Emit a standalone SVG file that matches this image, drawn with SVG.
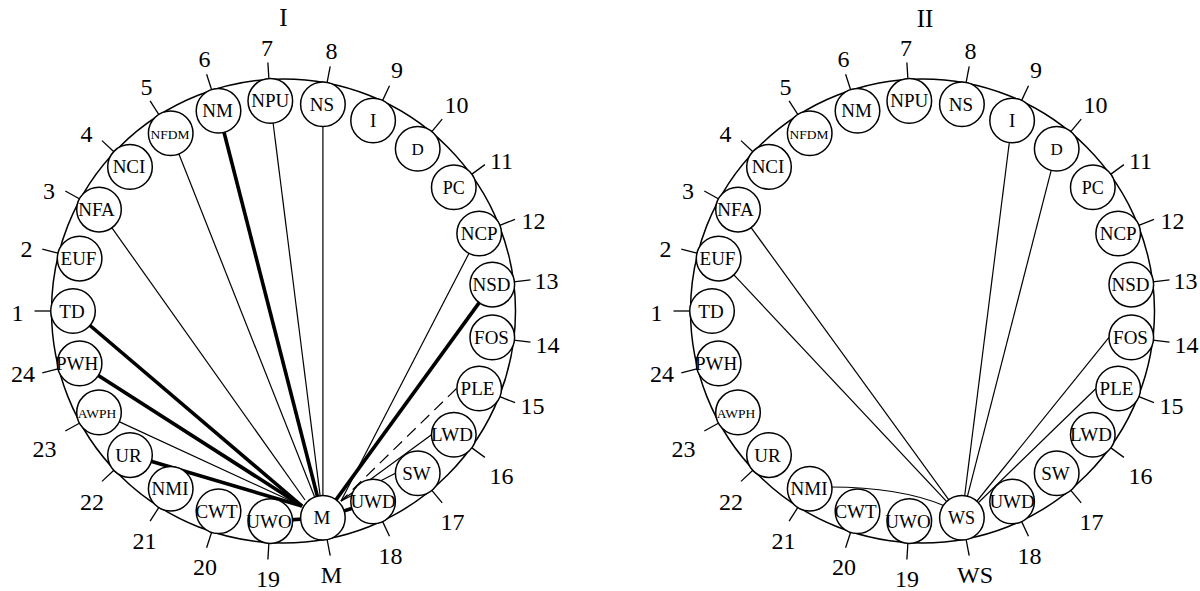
<svg xmlns="http://www.w3.org/2000/svg" width="1200" height="591" viewBox="0 0 1200 591" font-family="'Liberation Serif', 'DejaVu Serif', serif">
<style>
.lbl,.num,.title{font-family:"Liberation Serif","DejaVu Serif",serif;fill:#000}
.ring{fill:none;stroke:#000;stroke-width:1.5}
.node circle{fill:#fff;stroke:#000;stroke-width:1.5}
.node .tick{stroke:#000;stroke-width:1.3}
.lbl{font-size:19px;text-anchor:middle}
.sm{font-size:13.5px}
.num{font-size:24px;text-anchor:middle}
.title{font-size:25px;text-anchor:middle}
.thin{stroke:#000;stroke-width:1.2;fill:none}
.thick{stroke:#000;stroke-width:3.6;fill:none}
.dash{stroke-dasharray:12 7}
</style>
<rect width="1200" height="591" fill="#fff"/>
<text class="title" x="283.5" y="26">I</text>
<text class="title" x="925" y="27">II</text>
<circle class="ring" cx="283.5" cy="311" r="232"/>
<circle class="ring" cx="922.5" cy="311" r="232"/>

<g id="connectors">
<g id="conn-I">
<line class="thick" x1="218.5" y1="110.8" x2="322.9" y2="517.8"/>
<line class="thin" x1="170.7" y1="133.3" x2="322.9" y2="517.8"/>
<line class="thin" x1="270.3" y1="100.9" x2="322.9" y2="517.8"/>
<line class="thin" x1="322.9" y1="104.2" x2="322.9" y2="517.8"/>
<line class="thin" x1="99" y1="209.6" x2="305" y2="500"/>
<line class="thick" x1="73" y1="311" x2="302" y2="506"/>
<line class="thick" x1="79.6" y1="363.4" x2="302" y2="506"/>
<line class="thin" x1="99" y1="412.4" x2="302" y2="506"/>
<line class="thick" x1="130" y1="455.1" x2="302" y2="506"/>
<line class="thick" x1="270.3" y1="521.1" x2="322.9" y2="517.8"/>
<line class="thick" x1="322.9" y1="517.8" x2="373.1" y2="501.5"/>
<line class="thick" x1="492.3" y1="284.6" x2="322.9" y2="517.8"/>
<line class="thin" x1="479.2" y1="233.5" x2="341" y2="501"/>
<line class="thin dash" x1="456.5" y1="388.5" x2="341" y2="501"/>
<line class="thin" x1="431.5" y1="434.7" x2="341" y2="501"/>
<line class="thin" x1="395.5" y1="473.2" x2="341" y2="501"/>
</g>
<g id="conn-II">
<line class="thin" x1="738" y1="209.6" x2="961.9" y2="517.8"/>
<line class="thin" x1="718.6" y1="258.6" x2="961.9" y2="517.8"/>
<line class="thin" x1="1012.1" y1="120.5" x2="961.9" y2="517.8"/>
<line class="thin" x1="1056.7" y1="148.8" x2="961.9" y2="517.8"/>
<line class="thin" x1="1109" y1="337.4" x2="977" y2="501"/>
<line class="thin" x1="1096" y1="388.5" x2="978" y2="503"/>
<path class="thin" d="M830,487 Q900,487 945,506"/>
</g>
</g>

<!-- Diagram I nodes -->
<g id="I-TD" class="node"><line class="tick" x1="51.5" y1="311" x2="34.5" y2="311"/><text class="num" x="17.5" y="321">1</text><circle cx="73" cy="311" r="22.3"/><text class="lbl" x="72" y="317.5">TD</text></g>
<g id="I-EUF" class="node"><line class="tick" x1="58.8" y1="253.3" x2="42.3" y2="249.1"/><text class="num" x="26.5" y="257">2</text><circle cx="79.6" cy="258.6" r="22.3"/><text class="lbl" x="78.5" y="265">EUF</text></g>
<g id="I-NFA" class="node"><line class="tick" x1="80.2" y1="199.2" x2="65.3" y2="191"/><text class="num" x="49" y="199">3</text><circle cx="99" cy="209.6" r="22.3"/><text class="lbl" x="96.5" y="216">NFA</text></g>
<g id="I-NCI" class="node"><line class="tick" x1="114.4" y1="152.2" x2="102" y2="140.6"/><text class="num" x="86.5" y="142">4</text><circle cx="130" cy="166.9" r="22.3"/><text class="lbl" x="129" y="173.4">NCI</text></g>
<g id="I-NFDM" class="node"><line class="tick" x1="159.2" y1="115.1" x2="150.1" y2="100.8"/><text class="num" x="146.5" y="95">5</text><circle cx="170.7" cy="133.3" r="22.3"/><text class="lbl sm" x="170" y="139">NFDM</text></g>
<g id="I-NM" class="node"><line class="tick" x1="211.8" y1="90.3" x2="206.6" y2="74.2"/><text class="num" x="204.5" y="67">6</text><circle cx="218.5" cy="110.8" r="22.3"/><text class="lbl" x="217.5" y="117.3">NM</text></g>
<g id="I-NPU" class="node"><line class="tick" x1="268.9" y1="79.5" x2="267.9" y2="62.5"/><text class="num" x="267" y="56">7</text><circle cx="270.3" cy="100.9" r="22.3"/><text class="lbl" x="270.3" y="107.4">NPU</text></g>
<g id="I-NS" class="node"><line class="tick" x1="327" y1="83.1" x2="330.2" y2="66.4"/><text class="num" x="331.5" y="59">8</text><circle cx="322.9" cy="104.2" r="22.3"/><text class="lbl" x="322" y="110.7">NS</text></g>
<g id="I-I" class="node"><line class="tick" x1="382.3" y1="101.1" x2="389.5" y2="85.7"/><text class="num" x="397" y="78">9</text><circle cx="373.1" cy="120.5" r="22.3"/><text class="lbl" x="373.1" y="127">I</text></g>
<g id="I-D" class="node"><line class="tick" x1="431.4" y1="132.2" x2="442.2" y2="119.1"/><text class="num" x="456.5" y="113">10</text><circle cx="417.7" cy="148.8" r="22.3"/><text class="lbl" x="417.7" y="155" style="font-size:17px">D</text></g>
<g id="I-PC" class="node"><line class="tick" x1="471.2" y1="174.6" x2="484.9" y2="164.6"/><text class="num" x="501.5" y="169">11</text><circle cx="453.8" cy="187.3" r="22.3"/><text class="lbl" x="453.8" y="193.5" style="font-size:18px">PC</text></g>
<g id="I-NCP" class="node"><line class="tick" x1="499.2" y1="225.6" x2="515" y2="219.3"/><text class="num" x="533.5" y="229">12</text><circle cx="479.2" cy="233.5" r="22.3"/><text class="lbl" x="479.2" y="240">NCP</text></g>
<g id="I-NSD" class="node"><line class="tick" x1="513.7" y1="281.9" x2="530.5" y2="279.8"/><text class="num" x="546.5" y="289">13</text><circle cx="492.3" cy="284.6" r="22.3"/><text class="lbl" x="491.5" y="291">NSD</text></g>
<g id="I-FOS" class="node"><line class="tick" x1="513.7" y1="340.1" x2="530.5" y2="342.2"/><text class="num" x="547.5" y="353">14</text><circle cx="492.3" cy="337.4" r="22.3"/><text class="lbl" x="491.5" y="343.8">FOS</text></g>
<g id="I-PLE" class="node"><line class="tick" x1="499.2" y1="396.4" x2="515" y2="402.7"/><text class="num" x="532.5" y="414">15</text><circle cx="479.2" cy="388.5" r="22.3"/><text class="lbl" x="477.5" y="395">PLE</text></g>
<g id="I-LWD" class="node"><line class="tick" x1="471.2" y1="447.4" x2="484.9" y2="457.4"/><text class="num" x="501.5" y="484">16</text><circle cx="453.8" cy="434.7" r="22.3"/><text class="lbl" x="452" y="441">LWD</text></g>
<g id="I-SW" class="node"><line class="tick" x1="431.4" y1="489.8" x2="442.2" y2="502.9"/><text class="num" x="452.5" y="530">17</text><circle cx="417.7" cy="473.2" r="22.3"/><text class="lbl" x="416.5" y="479.5">SW</text></g>
<g id="I-UWD" class="node"><line class="tick" x1="382.3" y1="520.9" x2="389.5" y2="536.3"/><text class="num" x="390.5" y="564">18</text><circle cx="373.1" cy="501.5" r="22.3"/><text class="lbl" x="373.1" y="508">UWD</text></g>
<g id="I-M" class="node"><line class="tick" x1="327" y1="538.9" x2="330.2" y2="555.6"/><text class="num" x="331.5" y="583">M</text><circle cx="322.9" cy="517.8" r="22.3"/><text class="lbl" x="322" y="524">M</text></g>
<g id="I-UWO" class="node"><line class="tick" x1="268.9" y1="542.5" x2="267.9" y2="559.5"/><text class="num" x="268" y="587">19</text><circle cx="270.3" cy="521.1" r="22.3"/><text class="lbl" x="269" y="527.5">UWO</text></g>
<g id="I-CWT" class="node"><line class="tick" x1="211.8" y1="531.7" x2="206.6" y2="547.8"/><text class="num" x="205" y="575">20</text><circle cx="218.5" cy="511.2" r="22.3"/><text class="lbl" x="216.5" y="517.5">CWT</text></g>
<g id="I-NMI" class="node"><line class="tick" x1="159.2" y1="506.9" x2="150.1" y2="521.2"/><text class="num" x="144.5" y="549">21</text><circle cx="170.7" cy="488.7" r="22.3"/><text class="lbl" x="170" y="495">NMI</text></g>
<g id="I-UR" class="node"><line class="tick" x1="114.4" y1="469.8" x2="102" y2="481.4"/><text class="num" x="92" y="510">22</text><circle cx="130" cy="455.1" r="22.3"/><text class="lbl" x="128.5" y="461.5">UR</text></g>
<g id="I-AWPH" class="node"><line class="tick" x1="80.2" y1="422.8" x2="65.3" y2="431"/><text class="num" x="44.5" y="457">23</text><circle cx="99" cy="412.4" r="22.3"/><text class="lbl sm" x="97" y="417.7">AWPH</text></g>
<g id="I-PWH" class="node"><line class="tick" x1="58.8" y1="368.7" x2="42.3" y2="372.9"/><text class="num" x="23" y="382">24</text><circle cx="79.6" cy="363.4" r="22.3"/><text class="lbl" x="77" y="370">PWH</text></g>

<!-- Diagram II nodes -->
<g id="II-TD" class="node"><line class="tick" x1="690.5" y1="311" x2="673.5" y2="311"/><text class="num" x="656.5" y="321">1</text><circle cx="712" cy="311" r="22.3"/><text class="lbl" x="711" y="317.5">TD</text></g>
<g id="II-EUF" class="node"><line class="tick" x1="697.8" y1="253.3" x2="681.3" y2="249.1"/><text class="num" x="665.5" y="257">2</text><circle cx="718.6" cy="258.6" r="22.3"/><text class="lbl" x="717.5" y="265">EUF</text></g>
<g id="II-NFA" class="node"><line class="tick" x1="719.2" y1="199.2" x2="704.3" y2="191"/><text class="num" x="688" y="199">3</text><circle cx="738" cy="209.6" r="22.3"/><text class="lbl" x="735.5" y="216">NFA</text></g>
<g id="II-NCI" class="node"><line class="tick" x1="753.4" y1="152.2" x2="741" y2="140.6"/><text class="num" x="725.5" y="142">4</text><circle cx="769" cy="166.9" r="22.3"/><text class="lbl" x="768" y="173.4">NCI</text></g>
<g id="II-NFDM" class="node"><line class="tick" x1="798.2" y1="115.1" x2="789.1" y2="100.8"/><text class="num" x="785.5" y="95">5</text><circle cx="809.7" cy="133.3" r="22.3"/><text class="lbl sm" x="809" y="139">NFDM</text></g>
<g id="II-NM" class="node"><line class="tick" x1="850.8" y1="90.3" x2="845.6" y2="74.2"/><text class="num" x="843.5" y="67">6</text><circle cx="857.5" cy="110.8" r="22.3"/><text class="lbl" x="856.5" y="117.3">NM</text></g>
<g id="II-NPU" class="node"><line class="tick" x1="907.9" y1="79.5" x2="906.9" y2="62.5"/><text class="num" x="906" y="56">7</text><circle cx="909.3" cy="100.9" r="22.3"/><text class="lbl" x="909.3" y="107.4">NPU</text></g>
<g id="II-NS" class="node"><line class="tick" x1="966" y1="83.1" x2="969.2" y2="66.4"/><text class="num" x="970.5" y="59">8</text><circle cx="961.9" cy="104.2" r="22.3"/><text class="lbl" x="961" y="110.7">NS</text></g>
<g id="II-I" class="node"><line class="tick" x1="1021.3" y1="101.1" x2="1028.5" y2="85.7"/><text class="num" x="1036" y="78">9</text><circle cx="1012.1" cy="120.5" r="22.3"/><text class="lbl" x="1012.1" y="127">I</text></g>
<g id="II-D" class="node"><line class="tick" x1="1070.4" y1="132.2" x2="1081.2" y2="119.1"/><text class="num" x="1095.5" y="113">10</text><circle cx="1056.7" cy="148.8" r="22.3"/><text class="lbl" x="1056.7" y="155" style="font-size:17px">D</text></g>
<g id="II-PC" class="node"><line class="tick" x1="1110.2" y1="174.6" x2="1123.9" y2="164.6"/><text class="num" x="1140.5" y="169">11</text><circle cx="1092.8" cy="187.3" r="22.3"/><text class="lbl" x="1092.8" y="193.5" style="font-size:18px">PC</text></g>
<g id="II-NCP" class="node"><line class="tick" x1="1138.2" y1="225.6" x2="1154" y2="219.3"/><text class="num" x="1172.5" y="229">12</text><circle cx="1118.2" cy="233.5" r="22.3"/><text class="lbl" x="1118.2" y="240">NCP</text></g>
<g id="II-NSD" class="node"><line class="tick" x1="1152.7" y1="281.9" x2="1169.5" y2="279.8"/><text class="num" x="1185.5" y="289">13</text><circle cx="1131.3" cy="284.6" r="22.3"/><text class="lbl" x="1130.5" y="291">NSD</text></g>
<g id="II-FOS" class="node"><line class="tick" x1="1152.7" y1="340.1" x2="1169.5" y2="342.2"/><text class="num" x="1186.5" y="353">14</text><circle cx="1131.3" cy="337.4" r="22.3"/><text class="lbl" x="1130.5" y="343.8">FOS</text></g>
<g id="II-PLE" class="node"><line class="tick" x1="1138.2" y1="396.4" x2="1154" y2="402.7"/><text class="num" x="1171.5" y="414">15</text><circle cx="1118.2" cy="388.5" r="22.3"/><text class="lbl" x="1116.5" y="395">PLE</text></g>
<g id="II-LWD" class="node"><line class="tick" x1="1110.2" y1="447.4" x2="1123.9" y2="457.4"/><text class="num" x="1140.5" y="484">16</text><circle cx="1092.8" cy="434.7" r="22.3"/><text class="lbl" x="1091" y="441">LWD</text></g>
<g id="II-SW" class="node"><line class="tick" x1="1070.4" y1="489.8" x2="1081.2" y2="502.9"/><text class="num" x="1091.5" y="530">17</text><circle cx="1056.7" cy="473.2" r="22.3"/><text class="lbl" x="1055.5" y="479.5">SW</text></g>
<g id="II-UWD" class="node"><line class="tick" x1="1021.3" y1="520.9" x2="1028.5" y2="536.3"/><text class="num" x="1029.5" y="564">18</text><circle cx="1012.1" cy="501.5" r="22.3"/><text class="lbl" x="1012.1" y="508">UWD</text></g>
<g id="II-WS" class="node"><line class="tick" x1="966" y1="538.9" x2="969.2" y2="555.6"/><text class="num" x="975" y="583">WS</text><circle cx="961.9" cy="517.8" r="22.3"/><text class="lbl" x="961.5" y="524" style="font-size:18px">WS</text></g>
<g id="II-UWO" class="node"><line class="tick" x1="907.9" y1="542.5" x2="906.9" y2="559.5"/><text class="num" x="907" y="587">19</text><circle cx="909.3" cy="521.1" r="22.3"/><text class="lbl" x="908" y="527.5">UWO</text></g>
<g id="II-CWT" class="node"><line class="tick" x1="850.8" y1="531.7" x2="845.6" y2="547.8"/><text class="num" x="844" y="575">20</text><circle cx="857.5" cy="511.2" r="22.3"/><text class="lbl" x="855.5" y="517.5">CWT</text></g>
<g id="II-NMI" class="node"><line class="tick" x1="798.2" y1="506.9" x2="789.1" y2="521.2"/><text class="num" x="783.5" y="549">21</text><circle cx="809.7" cy="488.7" r="22.3"/><text class="lbl" x="809" y="495">NMI</text></g>
<g id="II-UR" class="node"><line class="tick" x1="753.4" y1="469.8" x2="741" y2="481.4"/><text class="num" x="731" y="510">22</text><circle cx="769" cy="455.1" r="22.3"/><text class="lbl" x="767.5" y="461.5">UR</text></g>
<g id="II-AWPH" class="node"><line class="tick" x1="719.2" y1="422.8" x2="704.3" y2="431"/><text class="num" x="683.5" y="457">23</text><circle cx="738" cy="412.4" r="22.3"/><text class="lbl sm" x="736" y="417.7">AWPH</text></g>
<g id="II-PWH" class="node"><line class="tick" x1="697.8" y1="368.7" x2="681.3" y2="372.9"/><text class="num" x="662" y="382">24</text><circle cx="718.6" cy="363.4" r="22.3"/><text class="lbl" x="716" y="370">PWH</text></g>
</svg>
